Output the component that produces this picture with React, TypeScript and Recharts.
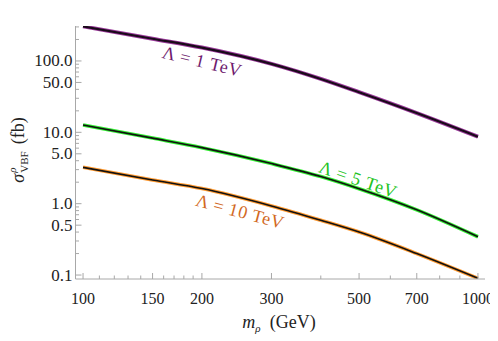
import React from "react";
import { LineChart, Line, XAxis, YAxis } from "recharts";

// m_rho (GeV) sample points
const massPoints = [100, 150, 200, 300, 400, 500, 700, 1000];
// sigma_VBF (fb) for each Lambda
const sigma1TeV = [305, 205, 154, 91, 56, 36.5, 18.6, 8.68];
const sigma5TeV = [12.67, 8.3, 6.1, 3.65, 2.4, 1.62, 0.82, 0.344];
const sigma10TeV = [3.23, 2.15, 1.63, 0.93, 0.585, 0.4, 0.2, 0.09];

const xMajorTicks = [100, 150, 200, 300, 500, 700, 1000];
const xMinorTicks = [110, 120, 130, 140, 160, 170, 180, 190, 400, 600, 800, 900];
const yMajorTicks = [0.1, 0.5, 1, 5, 10, 50, 100];
const yMinorTicks = [
  0.2, 0.3, 0.4, 0.6, 0.7, 0.8, 0.9, 2, 3, 4, 6, 7, 8, 9, 20, 30, 40, 60, 70, 80, 90, 200, 300,
];

const data = massPoints.map((m, i) => ({
  m,
  l1: sigma1TeV[i],
  l5: sigma5TeV[i],
  l10: sigma10TeV[i],
}));

const xTicks = [...xMajorTicks, ...xMinorTicks].sort((a, b) => a - b);
const yTicks = [...yMajorTicks, ...yMinorTicks].sort((a, b) => a - b);

const FONT = '"Times New Roman", "Liberation Serif", Times, serif';
const FRAME = "#a8a8a8";

const BottomTick = ({ x, y, payload }: any) => {
  const major = xMajorTicks.includes(payload.value);
  return (
    <g>
      <line x1={x} x2={x} y1={y} y2={y - (major ? 6 : 3.5)} stroke={FRAME} />
      {major && (
        <text x={x} y={y + 24.5} textAnchor="middle" fontSize={16} fontFamily={FONT} fill="#222">
          {payload.value}
        </text>
      )}
    </g>
  );
};

const TopTick = ({ x, y, payload }: any) => {
  const major = xMajorTicks.includes(payload.value);
  return <line x1={x} x2={x} y1={y} y2={y + (major ? 6 : 3.5)} stroke={FRAME} />;
};

const LeftTick = ({ x, y, payload }: any) => {
  const major = yMajorTicks.includes(payload.value);
  return (
    <g>
      <line x1={x} x2={x + (major ? 6 : 3.5)} y1={y} y2={y} stroke={FRAME} />
      {major && (
        <text x={x - 3} y={y + 5.5} textAnchor="end" fontSize={17} fontFamily={FONT} fill="#222">
          {payload.value.toFixed(1)}
        </text>
      )}
    </g>
  );
};

const RightTick = ({ x, y, payload }: any) => {
  const major = yMajorTicks.includes(payload.value);
  return <line x1={x} x2={x - (major ? 6 : 3.5)} y1={y} y2={y} stroke={FRAME} />;
};

const curveLabel = (
  text: string,
  left: number,
  top: number,
  angle: number,
  color: string
) => (
  <div
    style={{
      position: "absolute",
      left,
      top,
      transform: `translate(-50%, -50%) rotate(${angle}deg)`,
      color,
      fontFamily: FONT,
      fontSize: 18,
      whiteSpace: "pre",
      letterSpacing: 0.6,
    }}
  >
    {text}
  </div>
);

export default function App() {
  const xDomain = [95.7, 1042];
  const yDomain = [0.088, 309];
  return (
    <div style={{ position: "relative", width: 490, height: 333 }}>
      <LineChart
        width={490}
        height={333}
        data={data}
        margin={{ top: 18, right: 13, bottom: 0, left: 0 }}
      >
        <XAxis
          dataKey="m"
          type="number"
          scale="log"
          domain={xDomain}
          allowDataOverflow
          ticks={xTicks}
          interval={0}
          height={62}
          tickSize={0}
          tickMargin={0}
          tick={<BottomTick />}
          axisLine={{ stroke: FRAME }}
        />
        <XAxis
          xAxisId="top"
          orientation="top"
          dataKey="m"
          type="number"
          scale="log"
          domain={xDomain}
          allowDataOverflow
          ticks={xTicks}
          interval={0}
          height={0}
          tickSize={0}
          tickMargin={0}
          tick={<TopTick />}
          axisLine={{ stroke: FRAME }}
        />
        <YAxis
          type="number"
          scale="log"
          domain={yDomain}
          allowDataOverflow
          ticks={yTicks}
          interval={0}
          width={67.5}
          tickSize={0}
          tickMargin={0}
          tick={<LeftTick />}
          axisLine={{ stroke: FRAME }}
        />
        <YAxis
          yAxisId="right"
          orientation="right"
          type="number"
          scale="log"
          domain={yDomain}
          allowDataOverflow
          ticks={yTicks}
          interval={0}
          width={0}
          tickSize={0}
          tickMargin={0}
          tick={<RightTick />}
          axisLine={{ stroke: FRAME }}
        />
        <Line dataKey="l1" type="monotone" stroke="#9a3a9a" strokeWidth={4} dot={false} isAnimationActive={false} />
        <Line dataKey="l1" type="monotone" stroke="#1a0a1a" strokeWidth={2.2} dot={false} isAnimationActive={false} />
        <Line dataKey="l5" type="monotone" stroke="#33ee33" strokeWidth={3.6} dot={false} isAnimationActive={false} />
        <Line dataKey="l5" type="monotone" stroke="#111" strokeWidth={1.6} dot={false} isAnimationActive={false} />
        <Line dataKey="l10" type="monotone" stroke="#ff9a30" strokeWidth={3.6} dot={false} isAnimationActive={false} />
        <Line dataKey="l10" type="monotone" stroke="#111" strokeWidth={1.6} dot={false} isAnimationActive={false} />
      </LineChart>

      {curveLabel("Λ = 1 TeV", 193.7, 53.7, 13.5, "#6e1a6e")}
      {curveLabel("Λ = 5 TeV", 350.3, 172, 19, "#22c322")}
      {curveLabel("Λ = 10 TeV", 232, 203.7, 15, "#d2691e")}

      <div
        style={{
          position: "absolute",
          left: 11,
          top: 142,
          transform: "translate(-50%, -50%) rotate(-90deg)",
          fontFamily: FONT,
          fontSize: 18,
          whiteSpace: "nowrap",
          color: "#222",
          display: "flex",
          alignItems: "center",
        }}
      >
        <i>σ</i>
        <span
          style={{
            display: "inline-flex",
            flexDirection: "column",
            fontSize: 11,
            lineHeight: 1.05,
            marginLeft: 1,
            marginRight: 7,
          }}
        >
          <i>ρ</i>
          <span>VBF</span>
        </span>
        <span>(fb)</span>
      </div>

      <div
        style={{
          position: "absolute",
          left: 271,
          top: 315,
          transform: "translate(-50%, -50%)",
          fontFamily: FONT,
          fontSize: 18,
          whiteSpace: "pre",
          color: "#222",
        }}
      >
        <i>m</i>
        <sub style={{ fontSize: 11 }}>
          <i>ρ</i>
        </sub>
        {"  (GeV)"}
      </div>
    </div>
  );
}
